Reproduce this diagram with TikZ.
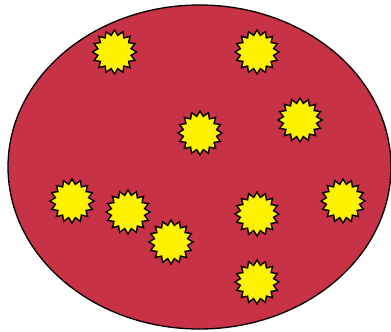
\documentclass[tikz,border=0pt]{standalone}
\usetikzlibrary{shapes.geometric}
\definecolor{cellred}{RGB}{200,50,70}
\tikzset{spark/.style={star, star points=16, star point ratio=1.3, draw=black, line width=1.4pt, fill=yellow, inner sep=0pt, minimum size=44pt}}
\begin{document}
\begin{tikzpicture}[x=1pt,y=-1pt]
  \useasboundingbox (0,0) rectangle (391,332);
  \draw[fill=cellred, line width=1.3pt] (199.5,167) ellipse (191.5 and 162);
  % the sparks
  \foreach \n/\px/\py in {1/114.5/52, 2/257/52, 3/200/133, 4/300/120, 5/72/201,
                          6/128/212, 7/171/242, 8/257/214, 9/343/201, 10/257/282}
    \node[spark] (s\n) at (\px,\py) {};
\end{tikzpicture}
\end{document}
